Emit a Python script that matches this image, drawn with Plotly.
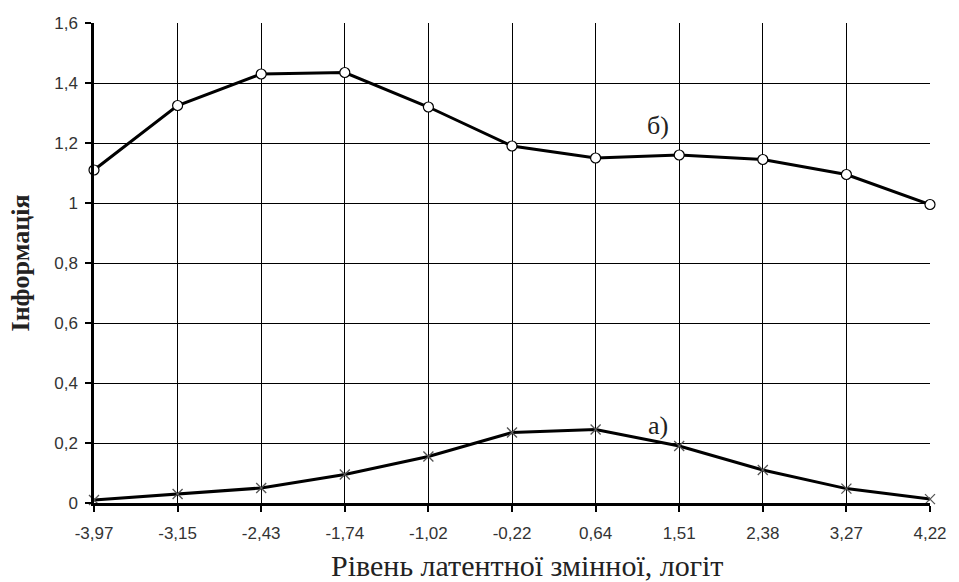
import plotly.graph_objects as go

categories = ["-3,97", "-3,15", "-2,43", "-1,74", "-1,02", "-0,22", "0,64", "1,51", "2,38", "3,27", "4,22"]
series_b = [1.11, 1.325, 1.43, 1.435, 1.32, 1.19, 1.15, 1.16, 1.145, 1.095, 0.995]
series_a = [0.01, 0.03, 0.05, 0.095, 0.155, 0.235, 0.245, 0.19, 0.11, 0.048, 0.013]
y_ticks = [0, 0.2, 0.4, 0.6, 0.8, 1.0, 1.2, 1.4, 1.6]

fig = go.Figure()
fig.add_trace(go.Scatter(
    x=categories, y=series_b, mode="lines+markers",
    line=dict(color="black", width=3),
    marker=dict(symbol="circle", size=10, color="white", line=dict(color="black", width=1.2)),
    showlegend=False, cliponaxis=False))
fig.add_trace(go.Scatter(
    x=categories, y=series_a, mode="lines+markers",
    line=dict(color="black", width=3),
    marker=dict(symbol="x-thin", size=10, color="#555", line=dict(color="#555", width=1.3)),
    showlegend=False, cliponaxis=False))

fig.add_annotation(x=6.75, y=1.26, text="б)", showarrow=False,
                   font=dict(family="Liberation Serif", size=26, color="#222"))
fig.add_annotation(x=6.75, y=0.26, text="а)", showarrow=False,
                   font=dict(family="Liberation Serif", size=26, color="#222"))
fig.add_annotation(x=0.518, xref="paper", y=-0.131, yref="paper",
                   xanchor="center", yanchor="middle",
                   text="Рівень латентної змінної, логіт", showarrow=False,
                   font=dict(family="Liberation Serif", size=30, color="#222"))

fig.update_layout(
    width=959, height=582,
    margin=dict(l=94, r=23, t=23, b=79),
    paper_bgcolor="white", plot_bgcolor="white",
    separators=", ",
    font=dict(family="Liberation Sans", size=17, color="#333"),
)
fig.update_xaxes(
    type="category", categoryorder="array", categoryarray=categories,
    range=[0, len(categories) - 1],
    showgrid=True, gridcolor="black", gridwidth=1.2,
    showline=True, linecolor="black", linewidth=2.5,
    ticks="outside", ticklen=6, tickcolor="black", tickwidth=2,
    ticklabelstandoff=7,
    tickfont=dict(family="Liberation Sans", size=17, color="#333"),
    zeroline=False,
)
fig.update_yaxes(
    range=[0, 1.6], tickvals=y_ticks,
    showgrid=True, gridcolor="black", gridwidth=1.2,
    showline=True, linecolor="black", linewidth=2.5,
    ticks="outside", ticklen=6, tickcolor="black", tickwidth=2,
    ticklabelstandoff=4,
    tickfont=dict(family="Liberation Sans", size=17, color="#333"),
    zeroline=False,
    title=dict(text="<b>Інформація</b>",
               font=dict(family="Liberation Serif", size=26, color="#222"), standoff=18),
)

fig.write_html("out.html", config={"displayModeBar": False},
               post_script="document.body.style.margin='0';document.body.style.overflow='hidden';")
